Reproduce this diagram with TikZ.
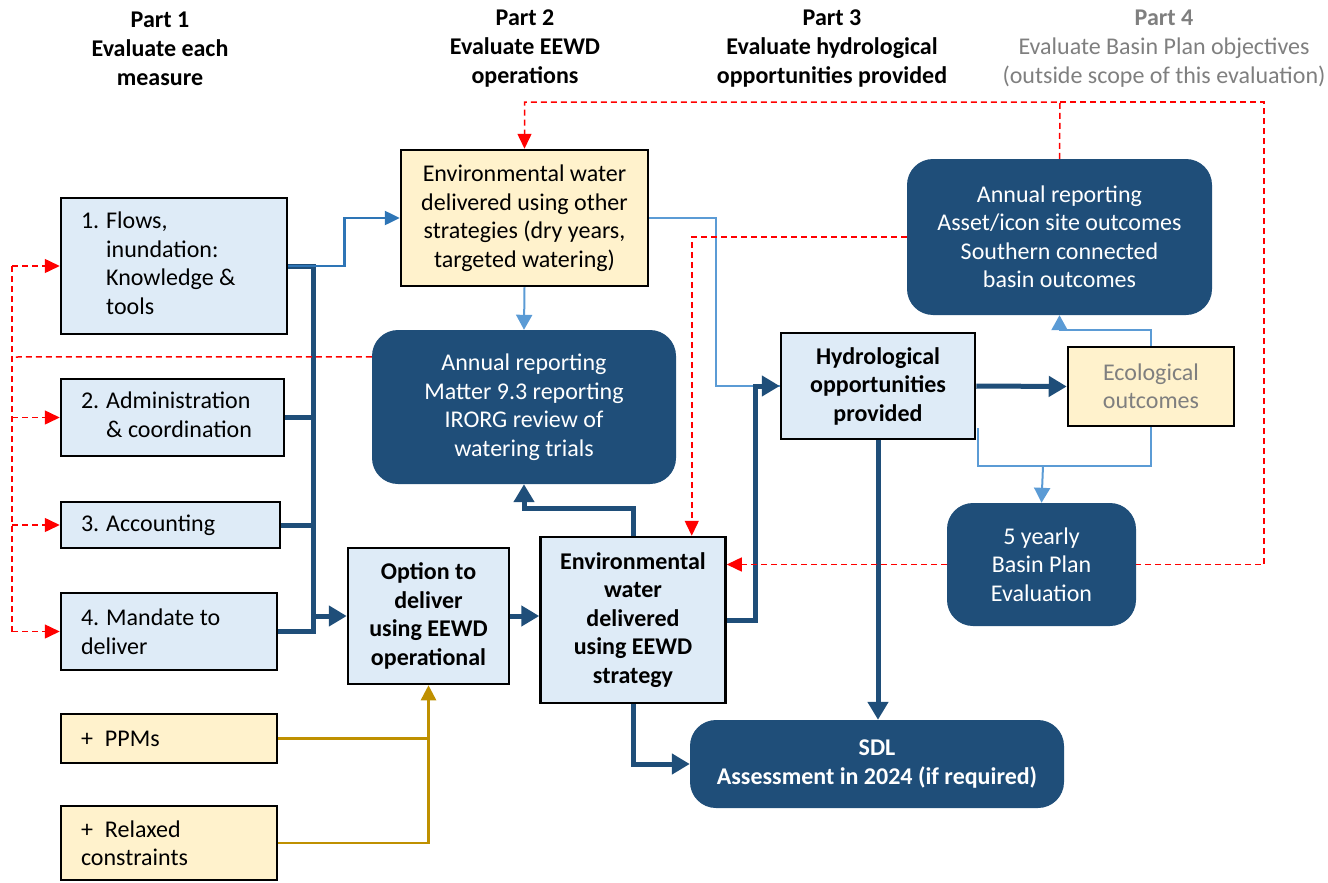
\documentclass[tikz,border=0pt]{standalone}
\usepackage{fontspec}
\setmainfont{Carlito}
\usepackage{tikz}
\usetikzlibrary{shapes.geometric, arrows.meta, calc}

\definecolor{boxblue}{HTML}{DEEBF7}
\definecolor{boxyellow}{HTML}{FFF2CC}
\definecolor{navy}{HTML}{1F4E79}
\definecolor{midblue}{HTML}{2E75B6}
\definecolor{skyblue}{HTML}{5B9BD5}
\definecolor{gold}{HTML}{BF9000}
\definecolor{greytext}{HTML}{7F7F7F}
\newcommand{\bodyfont}{\fontsize{24}{28.5}\selectfont}

\tikzstyle{header} = [align=center, font=\fontsize{24}{29}\selectfont\bfseries]
\tikzstyle{measure} = [rectangle, draw=black, line width=2.5pt, fill=boxblue, align=flush left, inner xsep=20pt, inner ysep=0pt]
\tikzstyle{extra} = [rectangle, draw=black, line width=2.5pt, fill=boxyellow, align=flush left, inner xsep=20pt, inner ysep=0pt]
\tikzstyle{process} = [rectangle, draw=black, line width=2.5pt, fill=boxblue, align=center, inner sep=0pt, font=\bodyfont\bfseries]
\tikzstyle{strategy} = [rectangle, draw=black, line width=2.5pt, fill=boxyellow, align=center, inner sep=0pt]
\tikzstyle{report} = [rectangle, rounded corners=26pt, fill=navy, text=white, align=center, inner sep=0pt]
\tikzstyle{bus} = [navy, line width=5pt]
\tikzstyle{busarrow} = [bus, -{Triangle[width=20pt, length=18pt]}]
\tikzstyle{midarrow} = [midblue, line width=2.5pt, -{Triangle[width=14pt, length=15pt]}]
\tikzstyle{thinline} = [skyblue, line width=2pt]
\tikzstyle{thinarrow} = [thinline, -{Triangle[width=16pt, length=15pt]}]
\tikzstyle{goldline} = [gold, line width=2.5pt]
\tikzstyle{goldarrow} = [goldline, -{Triangle[width=15pt, length=15pt]}]
\tikzstyle{reddash} = [red, line width=1.5pt, dash pattern=on 6pt off 4pt]
\tikzstyle{redarrow} = [reddash, -{Triangle[width=14pt, length=15pt]}]

\begin{document}
\begin{tikzpicture}[x=1pt, y=-1pt, font=\bodyfont]
\useasboundingbox (0,0) rectangle (1328,883);

% part headings
\node (part1) [header] at (160,49) {Part 1\\Evaluate each\\measure};
\node (part2) [header] at (525,49) {Part 2\\Evaluate EEWD\\operations};
\node (part3) [header] at (832,49) {Part 3\\Evaluate hydrological\\opportunities provided};
\node (part4) [header, text=greytext, font=\fontsize{24}{29}\selectfont] at (1164,49) {\textbf{Part 4}\\Evaluate Basin Plan objectives\\(outside scope of this evaluation)};

% measures
\node (m1) [measure, minimum width=226pt, minimum height=136pt, text width=186pt] at (174,266) {\begin{tabular}{@{}l@{\hspace{7pt}}l@{}}1. & Flows,\\ & inundation:\\ & Knowledge \&\\ & tools\end{tabular}};
\node (m2) [measure, minimum width=223pt, minimum height=77pt, text width=183pt] at (172.5,417.5) {\begin{tabular}{@{}l@{\hspace{7pt}}l@{}}2. & Administration\\ & \& coordination\end{tabular}};
\node (m3) [measure, minimum width=219pt, minimum height=46pt, text width=179pt] at (170.5,525) {3.\hspace{7pt}Accounting};
\node (m4) [measure, minimum width=216pt, minimum height=77pt, text width=176pt] at (169,631.5) {4.\hspace{7pt}Mandate to\\deliver};
\node (ppm) [extra, minimum width=216pt, minimum height=49pt, text width=176pt] at (169,738.5) {+\hspace{12pt}PPMs};
\node (relax) [extra, minimum width=216pt, minimum height=74pt, text width=176pt] at (169,843) {+\hspace{12pt}Relaxed\\constraints};

% operations
\node (other) [strategy, minimum width=247pt, minimum height=136pt] at (524.5,218) {Environmental water\\delivered using other\\strategies (dry years,\\targeted watering)};
\node (matter) [report, minimum width=304pt, minimum height=154pt] at (524,407) {Annual reporting\\Matter 9.3 reporting\\IRORG review of\\watering trials};
\node (opt) [process, minimum width=161pt, minimum height=136pt] at (428.5,616) {Option to\\deliver\\using EEWD\\operational};
\node (eewd) [process, minimum width=185pt, minimum height=166pt] at (633,620) {Environmental\\water\\delivered\\using EEWD\\strategy};

% outcomes
\node (hydro) [process, minimum width=194pt, minimum height=106pt] at (878,386) {Hydrological\\opportunities\\provided};
\node (eco) [strategy, text=greytext, minimum width=166pt, minimum height=79pt] at (1151,386.5) {Ecological\\outcomes};
\node (asset) [report, minimum width=305pt, minimum height=156pt] at (1059.5,237) {Annual reporting\\Asset/icon site outcomes\\Southern connected\\basin outcomes};
\node (five) [report, minimum width=189pt, minimum height=123pt] at (1041.5,564.5) {5 yearly\\Basin Plan\\Evaluation};
\node (sdl) [report, font=\bodyfont\bfseries, minimum width=374pt, minimum height=88pt] at (877,764) {SDL\\Assessment in 2024 (if required)};

\coordinate (bus) at (313,0);
\coordinate (rtop) at (1060,102);
\coordinate (rleft) at (12,357);
\coordinate (evj) at (1043,466);

% thick flow
\draw [bus] (m1.east) -| (bus |- m4.east) -- (m4.east);
\draw [bus] (m2.east) -- (bus |- m2.east);
\draw [bus] (m3.east) -- (bus |- m3.east);
\draw [busarrow] (bus |- opt.west) -- (opt.west);
\draw [busarrow] (opt.east) -- (opt.east -| eewd.west);
\draw [busarrow] (eewd.north) -- ++(0,-27) -| (matter.south);
\draw [busarrow] (eewd.south) |- (sdl.west);
\draw [thinline] (other.east) -| (716,386) -- (hydro.west);
\draw [busarrow] (eewd.east) -| (755,386) -- (hydro.west);
\draw [busarrow] (hydro.south) -- (hydro.south |- sdl.north);
\draw [busarrow] (hydro.east) -- (eco.west);

% other links
\draw [midarrow] (m1.east) -- ++(56,0) |- (other.west);
\draw [thinarrow] (other.south) -- (matter.north);
\draw [thinarrow] (eco.north) -- ++(0,-16) -| (asset.south);
\draw [thinline] ($(hydro.south east)+(2,-12)$) |- (evj) -| (eco.south);
\draw [thinarrow] (evj) -- (five.north);
\draw [goldline] (ppm.east) -- (ppm.east -| opt.south);
\draw [goldarrow] (relax.east) -| (opt.south);

% feedback
\draw [redarrow] (asset.north) -- (rtop) -| (other.north);
\draw [reddash] (rtop) -- (1264,102) |- (five.east);
\draw [redarrow] (five.west) -- (five.west -| eewd.east);
\draw [redarrow] (asset.west) -| ($(eewd.north east)+(-35,0)$);
\draw [reddash] ($(matter.north west)+(0,27)$) -- (rleft);
\draw [reddash] (rleft |- m1.west) -- (rleft |- m4.west);
\draw [redarrow] (rleft |- m1.west) -- (m1.west);
\draw [redarrow] (rleft |- m2.west) -- (m2.west);
\draw [redarrow] (rleft |- m3.west) -- (m3.west);
\draw [redarrow] (rleft |- m4.west) -- (m4.west);

\end{tikzpicture}
\end{document}
